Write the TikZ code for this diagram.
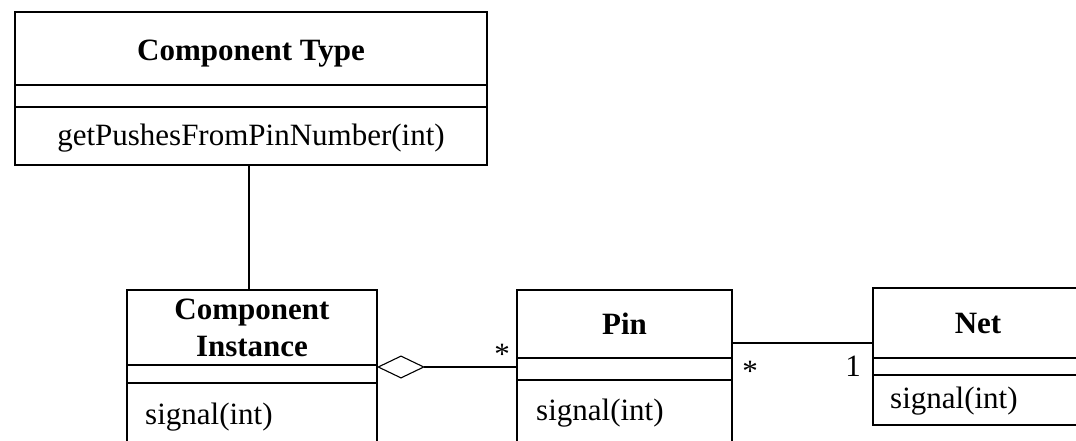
\documentclass[tikz,border=0pt]{standalone}
\usepackage{fontspec}
\setmainfont{Liberation Serif}
\usetikzlibrary{arrows.meta}
\begin{document}
\begin{tikzpicture}[x=1pt,y=-1pt,
  comp/.style={draw, line width=1.1pt, inner sep=0pt, outer sep=0pt, anchor=north west},
  txt/.style={inner sep=0pt, font=\fontsize{31}{37}\selectfont},
  ttl/.style={inner sep=0pt, align=center, font=\fontsize{31}{37}\selectfont\bfseries},
  conn/.style={line width=1.1pt},
  mult/.style={inner sep=0pt, font=\fontsize{31}{37}\selectfont}]
\useasboundingbox (0,0) rectangle (1076,441);
\clip (0,0) rectangle (1076,441);
% Component Type
\node[comp, minimum width=472pt, minimum height=73pt] (ctH) at (15,12) {};
\node[comp, minimum width=472pt, minimum height=22pt] (ctA) at (15,85) {};
\node[comp, minimum width=472pt, minimum height=58pt] (ctO) at (15,107) {};
\node[ttl] (ctT) at ([yshift=-5pt]ctH.center) {Component Type};
\node[txt] (ctM) at ([yshift=-2pt]ctO.center) {getPushesFromPinNumber(int)};
% Component Instance
\node[comp, minimum width=250pt, minimum height=75pt] (ciH) at (127,290) {};
\node[comp, minimum width=250pt, minimum height=18pt] (ciA) at (127,365) {};
\node[comp, minimum width=250pt, minimum height=80pt] (ciO) at (127,383) {};
\node[ttl] (ciT) at (ciH.center) {Component\\Instance};
\node[txt, anchor=west] (ciM) at (145,417) {signal(int)};
% Pin
\node[comp, minimum width=215pt, minimum height=68pt] (pinH) at (517,290) {};
\node[comp, minimum width=215pt, minimum height=22pt] (pinA) at (517,358) {};
\node[comp, minimum width=215pt, minimum height=80pt] (pinO) at (517,380) {};
\node[ttl] (pinT) at (pinH.center) {Pin};
\node[txt, anchor=west] (pinM) at (536,413) {signal(int)};
% Net
\node[comp, minimum width=210pt, minimum height=70pt] (netH) at (873,288) {};
\node[comp, minimum width=210pt, minimum height=17pt] (netA) at (873,358) {};
\node[comp, minimum width=210pt, minimum height=50pt] (netO) at (873,375) {};
\node[ttl] (netT) at (netH.center) {Net};
\node[txt, anchor=west] (netM) at (890,401) {signal(int)};
% connectors
\draw[conn] (ctO.south -| 249,0) -- (ciH.north -| 249,0);
\coordinate (aggL) at ([yshift=-2pt]ciH.south east);
\draw[conn, {Diamond[open, length=48pt, width=23pt, line width=1.1pt]}-] (aggL) -- (aggL -| pinH.west);
\coordinate (pn) at ([yshift=-19pt]pinH.east);
\draw[conn] (pn) -- (pn -| netH.west);
% multiplicities
\node[mult] (m1) at (502,354) {*};
\node[mult] (m2) at (750,371) {*};
\node[mult] (m3) at (853,366) {1};
\end{tikzpicture}
\end{document}
